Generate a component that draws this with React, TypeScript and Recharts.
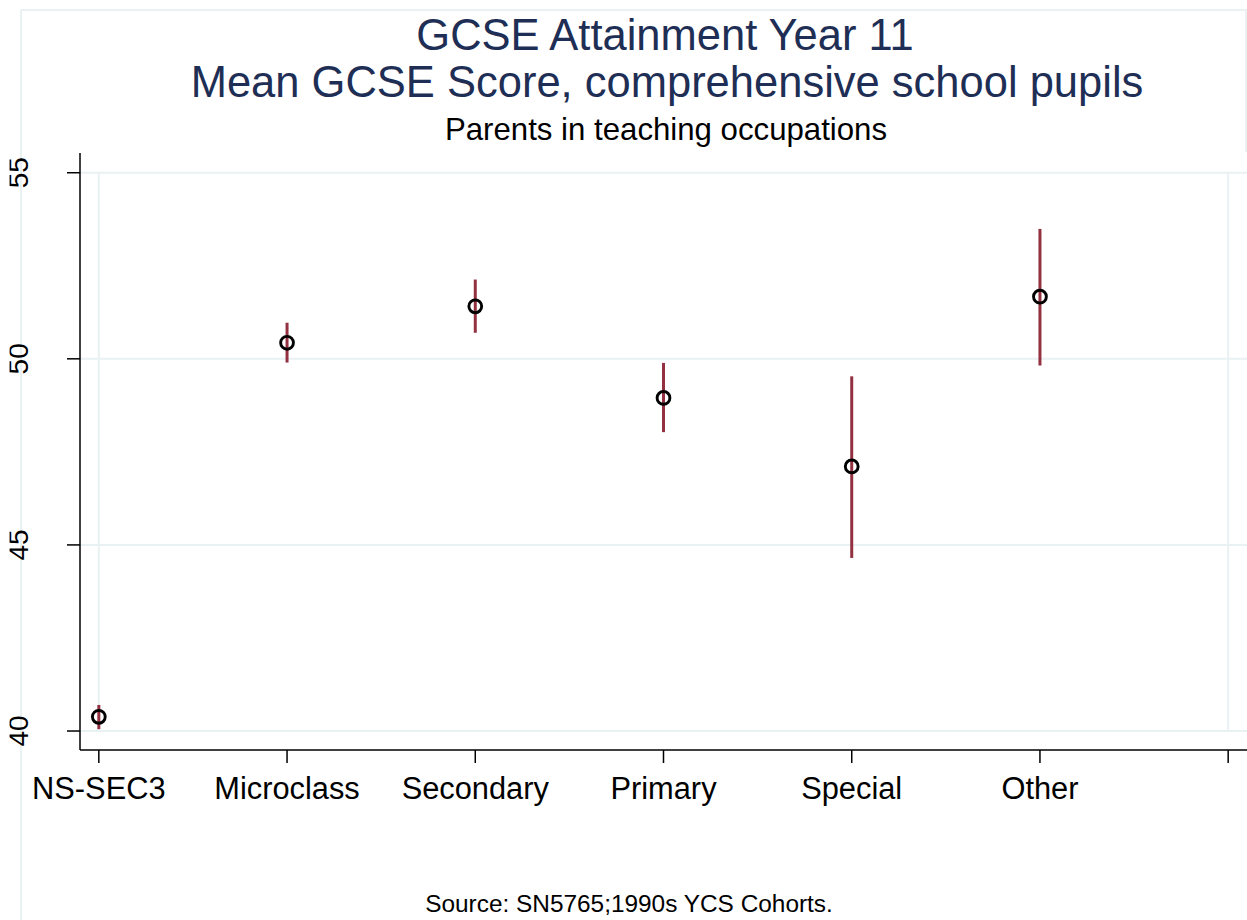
import React from 'react';
import { ComposedChart, Scatter, XAxis, YAxis, ErrorBar, ReferenceLine } from 'recharts';

const categories = ['NS-SEC3', 'Microclass', 'Secondary', 'Primary', 'Special', 'Other'];
const means = [40.38, 50.43, 51.41, 48.95, 47.11, 51.67];
const lower = [40.05, 49.9, 50.7, 48.03, 44.65, 49.82];
const upper = [40.7, 50.97, 52.13, 49.89, 49.53, 53.49];
const xTickLabels = [...categories, ''];
const xTicks = [0, 1, 2, 3, 4, 5, 6];
const yTicks = [40, 45, 50, 55];

const data = categories.map((c, i) => ({
  x: i,
  name: c,
  y: means[i],
  err: [means[i] - lower[i], upper[i] - means[i]],
}));

const FONT = '"Liberation Sans", Arial, Helvetica, sans-serif';
const GRID = '#E9F1F3';
const TITLE = '#1E2E55';

const XTick = (props: any) => {
  const { x, y, payload } = props;
  return (
    <text x={x} y={y + 36} textAnchor="middle" fontFamily={FONT} fontSize={30.8} fill="#000">
      {xTickLabels[payload.value]}
    </text>
  );
};

const YTick = (props: any) => {
  const { y, payload } = props;
  return (
    <g clipPath="url(#ytickclip)">
      <text
        x={28}
        y={y}
        transform={`rotate(-90, 28, ${y})`}
        textAnchor="middle"
        fontFamily={FONT}
        fontSize={28}
        fill="#000"
      >
        {payload.value}
      </text>
    </g>
  );
};

const Dot = (props: any) => {
  const { cx, cy } = props;
  return <circle cx={cx} cy={cy} r={6.4} fill="none" stroke="#000" strokeWidth={2.9} />;
};

export default function App() {
  return (
    <div style={{ position: 'absolute', left: 0, top: 0, width: 1247, height: 920, background: '#fff' }}>
      <svg width={1247} height={920} style={{ position: 'absolute', left: 0, top: 0 }}>
        <line x1={21} y1={10} x2={1247} y2={10} stroke={GRID} strokeWidth={2} />
        <line x1={21} y1={10} x2={21} y2={920} stroke={GRID} strokeWidth={2} />
        <line x1={1246} y1={10} x2={1246} y2={152} stroke={GRID} strokeWidth={2} />
        <text x={665} y={50} textAnchor="middle" fontFamily={FONT} fontSize={43.5} fill={TITLE}>
          GCSE Attainment Year 11
        </text>
        <text x={667} y={97} textAnchor="middle" fontFamily={FONT} fontSize={43.5} fill={TITLE}>
          Mean GCSE Score, comprehensive school pupils
        </text>
        <text x={666} y={140} textAnchor="middle" fontFamily={FONT} fontSize={31.2} fill="#000">
          Parents in teaching occupations
        </text>
        <text x={629} y={912} textAnchor="middle" fontFamily={FONT} fontSize={24.4} fill="#000">
          Source: SN5765;1990s YCS Cohorts.
        </text>
      </svg>
      <div style={{ position: 'absolute', left: 0, top: 0 }}>
        <ComposedChart width={1247} height={920} data={data} margin={{ top: 153, right: 0, bottom: 0, left: 0 }}>
          <defs>
            <clipPath id="ytickclip">
              <rect x={9.5} y={0} width={80} height={920} />
            </clipPath>
          </defs>
          {yTicks.map((t) => (
            <ReferenceLine key={'h' + t} y={t} stroke={GRID} strokeWidth={2} />
          ))}
          <ReferenceLine segment={[{ x: 0, y: 40 }, { x: 0, y: 55 }]} stroke={GRID} strokeWidth={2} />
          <ReferenceLine segment={[{ x: 6, y: 40 }, { x: 6, y: 55 }]} stroke={GRID} strokeWidth={2} />
          <XAxis
            dataKey="x"
            type="number"
            domain={[-0.1, 6.1]}
            ticks={xTicks}
            interval={0}
            allowDataOverflow
            height={170}
            tickSize={13}
            tickMargin={0}
            tick={<XTick />}
            axisLine={{ stroke: '#000', strokeWidth: 1.5 }}
            tickLine={{ stroke: '#000', strokeWidth: 1.5 }}
          />
          <YAxis
            dataKey="y"
            type="number"
            domain={[39.49, 55.53]}
            ticks={yTicks}
            interval={0}
            allowDataOverflow
            width={80}
            tickSize={13}
            tickMargin={0}
            tick={<YTick />}
            axisLine={{ stroke: '#000', strokeWidth: 1.5 }}
            tickLine={{ stroke: '#000', strokeWidth: 1.5 }}
          />
          <Scatter data={data} dataKey="y" shape={<Dot />} isAnimationActive={false}>
            <ErrorBar dataKey="err" direction="y" width={0} stroke="#933141" strokeWidth={3} isAnimationActive={false} />
          </Scatter>
        </ComposedChart>
      </div>
    </div>
  );
}
